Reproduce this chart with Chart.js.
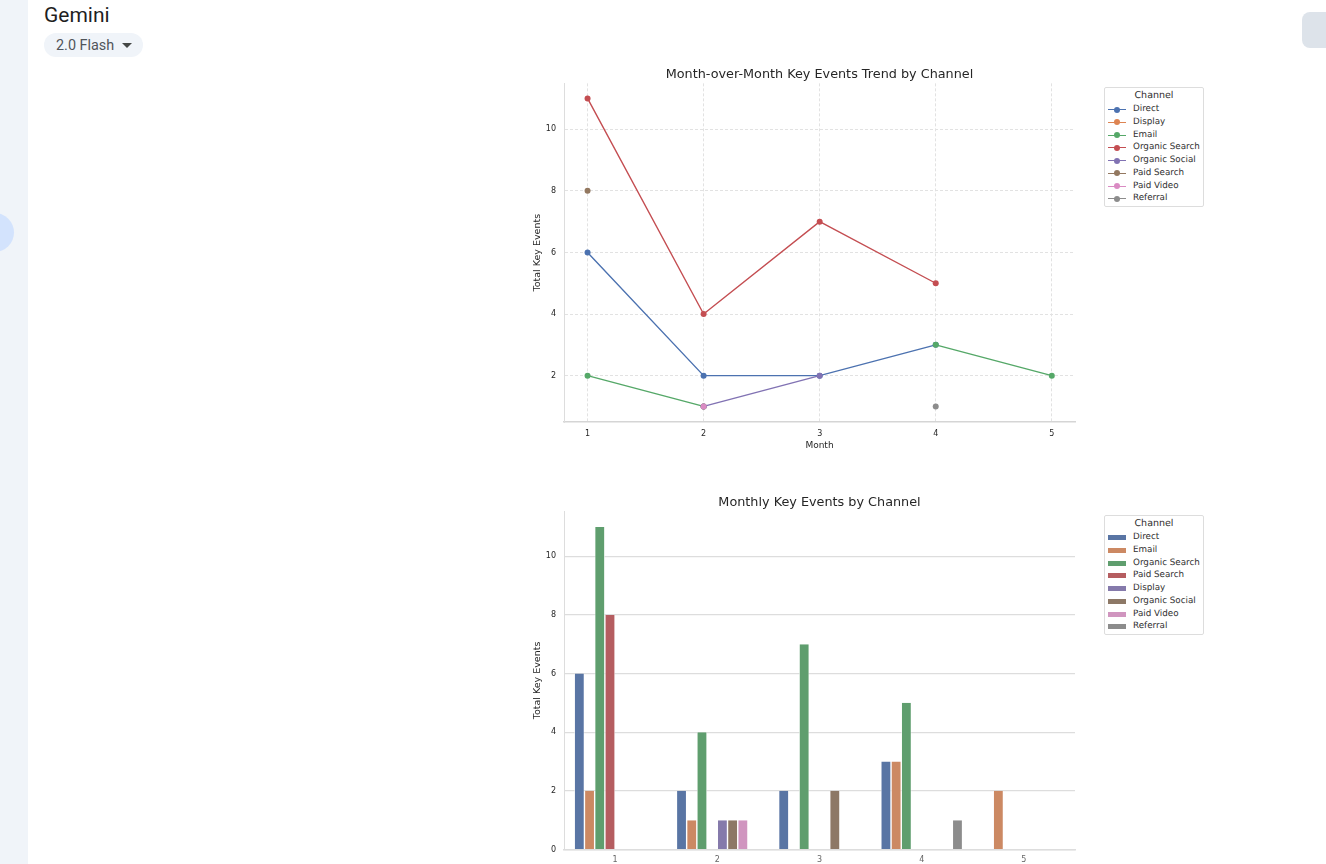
<!DOCTYPE html>
<html>
<head>
<meta charset="utf-8">
<title>Gemini</title>
<script src="https://cdn.jsdelivr.net/npm/chart.js@4"></script>
<style>
  html, body { margin: 0; height: 100%; background: #fff; overflow: hidden; }
  .rail { position: absolute; left: 0; top: 0; width: 28px; height: 864px; background: #f0f4f9; overflow: hidden; }
  .rail i { position: absolute; left: -25px; top: 213px; width: 39px; height: 39px; border-radius: 50%; background: #d3e3fd; }
  .brand { position: absolute; left: 44px; top: 1px; font: 400 21px/28px Roboto, sans-serif; color: #1f1f1f; }
  .model { position: absolute; left: 44px; top: 33px; width: 99px; height: 24px; border-radius: 12px; background: #f0f4f9;
    font: 400 14.4px/25px Roboto, sans-serif; color: #50555a; text-indent: 12px; }
  .model b { position: absolute; left: 78px; top: 10px; border: 5px solid transparent; border-top: 5px solid #444746; border-bottom: 0; }
  .corner { position: absolute; left: 1302px; top: 12px; width: 40px; height: 36px; border-radius: 8px; background: #dde3ea; }
  .plot { position: absolute; left: 520px; width: 599px; }
  .legend { position: absolute; left: 1104px; width: 98px; height: 118px; border: 1px solid #ddd; border-radius: 2px; background: #fff;
    font: 8.75px/12.75px "DejaVu Sans", sans-serif; color: #303030; text-rendering: geometricPrecision; }
  .legend h4 { margin: 1px 0; font: 9.5px/13px "DejaVu Sans", sans-serif; text-align: center; }
  .legend div { position: relative; padding-left: 28px; white-space: nowrap; }
  .legend s { position: absolute; left: 3px; width: 18px; }
  .legend .ln { top: 6px; height: 1px; }
  .legend .ln::after { content: ""; position: absolute; left: 6px; top: -2.5px; width: 6px; height: 6px; border-radius: 50%; background: inherit; }
  .legend .bx { top: 4px; height: 5px; }
</style>
</head>
<body>
<div class="rail"><i></i></div>
<div class="brand">Gemini</div>
<div class="model">2.0 Flash<b></b></div>
<div class="corner"></div>

<div class="plot" style="top:60px;height:400px"><canvas id="trendChart"></canvas></div>
<div class="legend" id="trendLegend" style="top:87px"></div>
<div class="plot" style="top:488px;height:376px"><canvas id="barChart"></canvas></div>
<div class="legend" id="barLegend" style="top:515px"></div>

<script>
const months = [1, 2, 3, 4, 5];
const trendTicksY = [2, 4, 6, 8, 10];
const barTicksY = [0, 2, 4, 6, 8, 10];

// null = no events that month, the line breaks there
const direct = [6, 2, 2, 3, null];
const display = [null, 1, null, null, null];
const email = [2, 1, null, 3, 2];
const organicSearch = [11, 4, 7, 5, null];
const organicSocial = [null, 1, 2, null, null];
const paidSearch = [8, null, null, null, null];
const paidVideo = [null, 1, null, null, null];
const referral = [null, null, null, 1, null];

const lineColors = ['#4c72b0', '#dd8452', '#55a868', '#c44e52', '#8172b3', '#937860', '#da8bc3', '#8c8c8c'];
const barColors = ['#5975a4', '#cc8963', '#5f9e6e', '#b55d60', '#857aab', '#8d7866', '#d095bf', '#8c8c8c'];

const trendNames = ['Direct', 'Display', 'Email', 'Organic Search', 'Organic Social', 'Paid Search', 'Paid Video', 'Referral'];
const trendValues = [direct, display, email, organicSearch, organicSocial, paidSearch, paidVideo, referral];
const barNames = ['Direct', 'Email', 'Organic Search', 'Paid Search', 'Display', 'Organic Social', 'Paid Video', 'Referral'];
const barValues = [direct, email, organicSearch, paidSearch, display, organicSocial, paidVideo, referral];

const FONT = 'DejaVu Sans';

function buildLegend(id, names, colors, swatch) {
  const box = document.getElementById(id);
  box.innerHTML = '<h4>Channel</h4>' + names.map((name, i) =>
    `<div><s class="${swatch}" style="background:${colors[i]}"></s>${name}</div>`).join('');
}

// fullSize off so the title centres over the plot, not the whole canvas
function titleOpts(text) {
  return { display: true, fullSize: false, text, color: '#262626', font: { family: FONT, size: 12.8, weight: 'normal' }, padding: { top: 7, bottom: 1 } };
}

function fixTicks(values) {
  return axis => { axis.ticks = values.map(value => ({ value })); };
}

const yTitle = { display: true, text: 'Total Key Events', color: '#262626', font: { family: FONT, size: 9.5 }, padding: { top: 12, bottom: 0 } };

new Chart(document.getElementById('trendChart'), {
  type: 'line',
  data: {
    labels: months,
    datasets: trendNames.map((name, i) => ({
      label: name,
      data: months.map((m, j) => ({ x: m, y: trendValues[i][j] })),
      borderColor: lineColors[i],
      backgroundColor: lineColors[i],
      borderWidth: 1.4,
      pointRadius: 3,
      pointBorderWidth: 0,
      tension: 0,
      order: 8 - i,
    })),
  },
  options: {
    responsive: true,
    maintainAspectRatio: false,
    animation: false,
    layout: { padding: { right: 44, bottom: 9 } },
    plugins: { legend: { display: false }, tooltip: { enabled: false }, title: titleOpts('Month-over-Month Key Events Trend by Channel') },
    scales: {
      x: {
        type: 'linear', min: 0.797, max: 5.2,
        afterBuildTicks: fixTicks(months),
        afterFit: axis => { axis.height = 29; },
        grid: { color: '#e2e2e2', drawTicks: false },
        border: { color: '#d5d5d5', width: 1.5, dash: [3, 2] },
        ticks: { color: '#262626', font: { family: FONT, size: 8 }, padding: 7, callback: v => v },
        title: { display: true, text: 'Month', color: '#262626', font: { family: FONT, size: 9 }, padding: 0 },
      },
      y: {
        min: 0.495, max: 11.49,
        afterBuildTicks: fixTicks(trendTicksY),
        afterFit: axis => { axis.width = 44; },
        grid: { color: '#e2e2e2', drawTicks: false },
        border: { color: '#dddddd', width: 1, dash: [3, 2] },
        ticks: { color: '#262626', font: { family: FONT, size: 8 }, padding: 8 },
        title: yTitle,
      },
    },
  },
});

new Chart(document.getElementById('barChart'), {
  type: 'bar',
  data: {
    labels: months,
    datasets: barNames.map((name, i) => ({
      label: name,
      data: barValues[i],
      backgroundColor: barColors[i],
      borderColor: '#ffffff',
      borderWidth: { left: 0.7, right: 0.7, top: 0, bottom: 0 },
      categoryPercentage: 0.8,
      barPercentage: 1,
    })),
  },
  options: {
    responsive: true,
    maintainAspectRatio: false,
    animation: false,
    layout: { padding: { right: 44 } },
    plugins: { legend: { display: false }, tooltip: { enabled: false }, title: titleOpts('Monthly Key Events by Channel') },
    scales: {
      x: {
        afterFit: axis => { axis.height = 14.5; },
        grid: { display: false, drawTicks: false },
        border: { color: '#dddddd', width: 1.5 },
        ticks: { color: '#666666', font: { family: FONT, size: 8 }, padding: 6 },
      },
      y: {
        min: 0, max: 11.53,
        afterBuildTicks: fixTicks(barTicksY),
        afterFit: axis => { axis.width = 44; },
        grid: { color: '#dddddd', lineWidth: 1.2, drawTicks: false },
        border: { color: '#dddddd', width: 1 },
        ticks: { color: '#262626', font: { family: FONT, size: 8 }, padding: 8 },
        title: yTitle,
      },
    },
  },
});

buildLegend('trendLegend', trendNames, lineColors, 'ln');
buildLegend('barLegend', barNames, barColors, 'bx');
</script>
</body>
</html>
